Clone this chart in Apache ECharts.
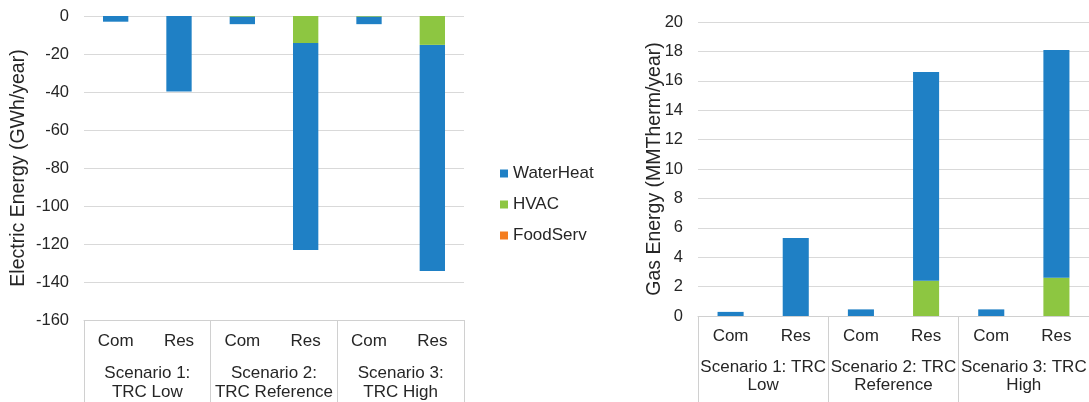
<!DOCTYPE html>
<html>
<head>
<meta charset="utf-8">
<script src="https://cdn.jsdelivr.net/npm/echarts@6/dist/echarts.min.js"></script>
<style>
html,body{margin:0;padding:0;background:#fff;}
#c{width:1089px;height:402px;}
</style>
</head>
<body>
<div id="c"></div>
<script>
const categories = ['Com', 'Res', 'Com', 'Res', 'Com', 'Res'];
const scenariosElec = ['Scenario 1:\nTRC Low', 'Scenario 2:\nTRC Reference', 'Scenario 3:\nTRC High'];
const scenariosGas = ['Scenario 1: TRC\nLow', 'Scenario 2: TRC\nReference', 'Scenario 3: TRC\nHigh'];
const seriesNames = ['WaterHeat', 'HVAC', 'FoodServ'];

const elecWaterHeat = [-3.0, -39.8, -3.9, -109.0, -3.9, -119.0];
const elecHVAC      = [0, 0, -0.4, -14.2, -0.4, -15.2];
const elecFoodServ  = [0, 0, 0, 0, 0, 0];

const gasWaterHeat = [0.28, 5.3, 0.45, 14.2, 0.45, 15.5];
const gasHVAC      = [0, 0, 0, 2.4, 0, 2.6];
const gasFoodServ  = [0, 0, 0, 0, 0, 0];

const elecTicks = {min: -160, max: 0, interval: 20};
const gasTicks = {min: 0, max: 20, interval: 2};

const colors = {WaterHeat: '#1f80c5', HVAC: '#8dc641', FoodServ: '#f47d20'};
const FONT = "'Liberation Sans', Arial, sans-serif";
const TXT = '#262626';
const GRIDC = '#d9d9d9';
const BOXC = '#d0d0d0';

const chart = echarts.init(document.getElementById('c'));

function xAxesFor(gridIndex, scen, catMargin, scenMargin, lh) {
  return [
    {
      type: 'category', gridIndex: gridIndex, data: categories, position: 'bottom',
      axisLine: {show: true, onZero: false, lineStyle: {color: BOXC, width: 1}},
      axisTick: {show: false},
      axisLabel: {color: TXT, fontFamily: FONT, fontSize: 17, margin: catMargin, interval: 0},
      splitLine: {show: false}
    },
    {
      type: 'category', gridIndex: gridIndex, data: scen, position: 'bottom',
      axisLine: {show: false, onZero: false},
      axisTick: {show: true, length: 90, alignWithLabel: false, interval: 0, lineStyle: {color: BOXC, width: 1}},
      axisLabel: {color: TXT, fontFamily: FONT, fontSize: 17, margin: scenMargin, interval: 0, lineHeight: lh},
      splitLine: {show: false}
    }
  ];
}

function barSeries(name, data, xi, yi) {
  return {
    name: name, type: 'bar', stack: 'tot' + yi, data: data,
    xAxisIndex: xi, yAxisIndex: yi, barWidth: '40%',
    itemStyle: {color: colors[name]}
  };
}

const option = {
  animation: false,
  backgroundColor: '#fff',
  grid: [
    {left: 84, top: 16, width: 380, height: 304.7},
    {left: 698, top: 22, width: 396, height: 294}
  ],
  legend: {
    data: seriesNames,
    orient: 'vertical', left: 495, top: 160,
    icon: 'rect', itemWidth: 8, itemHeight: 8, itemGap: 14,
    textStyle: {color: TXT, fontFamily: FONT, fontSize: 17}
  },
  xAxis: xAxesFor(0, scenariosElec, 13, 44, 19).concat(xAxesFor(1, scenariosGas, 12, 42, 18.5)),
  yAxis: [
    {
      type: 'value', gridIndex: 0, min: elecTicks.min, max: elecTicks.max, interval: elecTicks.interval,
      name: 'Electric Energy (GWh/year)', nameLocation: 'middle', nameGap: 55, nameRotate: 90,
      nameMoveOverlap: false,
      nameTextStyle: {color: TXT, fontFamily: FONT, fontSize: 19.5},
      axisLine: {show: false}, axisTick: {show: false},
      axisLabel: {color: TXT, fontFamily: FONT, fontSize: 16.5, margin: 15},
      splitLine: {show: true, lineStyle: {color: GRIDC, width: 1}}
    },
    {
      type: 'value', gridIndex: 1, min: gasTicks.min, max: gasTicks.max, interval: gasTicks.interval,
      name: 'Gas Energy (MMTherm/year)', nameLocation: 'middle', nameGap: 33, nameRotate: 90,
      nameMoveOverlap: false,
      nameTextStyle: {color: TXT, fontFamily: FONT, fontSize: 19.5},
      axisLine: {show: false}, axisTick: {show: false},
      axisLabel: {color: TXT, fontFamily: FONT, fontSize: 16.5, margin: 15},
      splitLine: {show: true, lineStyle: {color: GRIDC, width: 1}}
    }
  ],
  series: [
    barSeries('FoodServ', elecFoodServ, 0, 0),
    barSeries('HVAC', elecHVAC, 0, 0),
    barSeries('WaterHeat', elecWaterHeat, 0, 0),
    barSeries('FoodServ', gasFoodServ, 2, 1),
    barSeries('HVAC', gasHVAC, 2, 1),
    barSeries('WaterHeat', gasWaterHeat, 2, 1)
  ]
};
chart.setOption(option);
</script>
</body>
</html>
